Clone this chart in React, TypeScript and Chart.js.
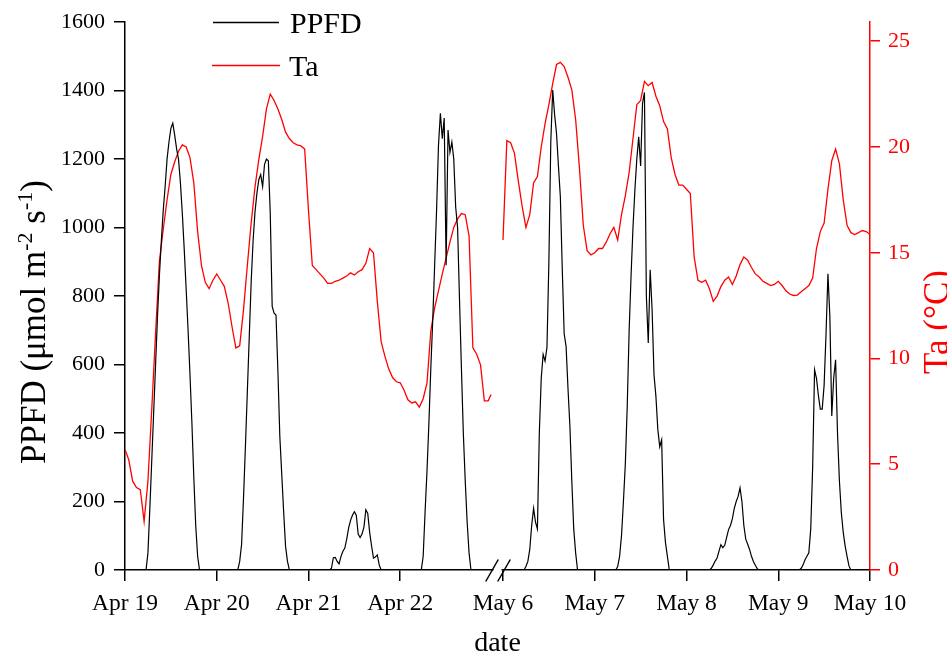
import React, { useEffect, useRef } from "react";
import { Chart, registerables } from "chart.js";

Chart.register(...registerables);

// ---- axis labels / categories ----
const TICK_LABELS = ["Apr 19", "Apr 20", "Apr 21", "Apr 22", "May 6", "May 7", "May 8", "May 9", "May 10"];
const BREAK_GAP = 0.12; // days of empty axis at the break
const APR_START = 0;
const MAY_START = 4 + BREAK_GAP;
const TICK_VALUES = [0, 1, 2, 3, MAY_START, MAY_START + 1, MAY_START + 2, MAY_START + 3, MAY_START + 4];
const TA_TICKS = [0, 5, 10, 15, 20, 25];

// ---- PPFD (µmol m-2 s-1), half-hourly from 05:00 to 20:00, zero at night ----
const PPFD_START_HOUR = 5;
const PPFD_END_HOUR = 20;
const PPFD_APR19 = [0, 0, 50, 180, 320, 460, 600, 740, 860, 960, 1050, 1120, 1200, 1250, 1290, 1305, 1270, 1230, 1200, 1130, 1040, 935, 820, 700, 570, 430, 270, 130, 40, 0, 0];
const PPFD_APR20 = [0, 0, 25, 75, 210, 361, 520, 680, 840, 960, 1045, 1100, 1140, 1155, 1120, 1185, 1200, 1195, 1040, 770, 750, 745, 580, 390, 280, 170, 69, 25, 0, 0, 0];
const PPFD_APR21 = [0, 0, 5, 36, 37, 25, 18, 40, 55, 64, 90, 123, 145, 160, 170, 160, 105, 95, 105, 125, 176, 165, 110, 70, 35, 38, 44, 15, 0, 0, 0];
const PPFD_APR22 = [0, 0, 40, 170, 290, 430, 590, 730, 890, 1050, 1240, 1334, 1260, 1320, 890, 1285, 1220, 1250, 1200, 1060, 1000, 790, 590, 400, 260, 140, 50, 0, 0, 0, 0];
const PPFD_MAY6 = [0, 0, 10, 25, 60, 130, 180, 140, 120, 400, 560, 630, 610, 650, 900, 1250, 1402, 1330, 1275, 1180, 1090, 880, 690, 653, 530, 420, 260, 120, 50, 0, 0];
const PPFD_MAY7 = [0, 0, 10, 40, 100, 200, 310, 480, 700, 860, 1000, 1110, 1200, 1265, 1180, 1363, 1395, 800, 663, 877, 760, 570, 507, 410, 360, 380, 147, 80, 40, 0, 0];
const PPFD_MAY8 = [0, 0, 0, 5, 15, 26, 35, 55, 74, 65, 72, 95, 118, 130, 150, 180, 200, 215, 240, 200, 130, 90, 75, 60, 40, 25, 14, 4, 0, 0, 0];
const PPFD_MAY9 = [0, 0, 5, 15, 30, 40, 50, 120, 300, 585, 560, 510, 470, 470, 540, 690, 865, 740, 450, 560, 614, 400, 260, 167, 110, 70, 40, 12, 0, 0, 0];

// ---- Ta (°C), hourly 00:00..23:00 ----
const TA_APR19 = [5.7, 5.2, 4.2, 3.9, 3.8, 2.3, 4.2, 7.6, 11.2, 14.6, 16.1, 17.5, 18.7, 19.3, 19.8, 20.1, 20.0, 19.5, 18.3, 16.0, 14.4, 13.6, 13.3, 13.7];
const TA_APR20 = [14.0, 13.7, 13.4, 12.6, 11.5, 10.5, 10.6, 12.3, 14.4, 16.4, 18.1, 19.4, 20.5, 21.8, 22.5, 22.2, 21.8, 21.3, 20.7, 20.4, 20.2, 20.1, 20.05, 19.9];
const TA_APR21 = [17.0, 14.4, 14.2, 14.0, 13.8, 13.55, 13.55, 13.65, 13.7, 13.8, 13.9, 14.05, 13.95, 14.1, 14.2, 14.5, 15.2, 15.0, 12.7, 10.8, 10.1, 9.5, 9.1, 8.9];
const TA_APR22 = [8.85, 8.5, 8.05, 7.9, 7.95, 7.7, 8.1, 8.85, 11.3, 12.4, 13.2, 14.0, 14.75, 15.5, 16.2, 16.6, 16.85, 16.8, 15.8, 10.5, 10.2, 9.7, 8.0, 8.0];
const TA_APR_END = 8.3;
const TA_MAY6 = [15.6, 20.3, 20.2, 19.7, 18.4, 17.2, 16.2, 16.8, 18.3, 18.6, 20.0, 21.1, 22.0, 23.0, 23.9, 24.0, 23.8, 23.3, 22.7, 21.3, 19.0, 16.3, 15.1, 14.9];
const TA_MAY7 = [15.0, 15.2, 15.2, 15.5, 15.9, 16.2, 15.6, 16.8, 17.7, 18.8, 20.4, 22.0, 22.2, 23.1, 22.9, 23.05, 22.4, 21.95, 21.2, 20.85, 19.5, 18.7, 18.2, 18.2];
const TA_MAY8 = [18.0, 17.8, 14.8, 13.7, 13.6, 13.7, 13.3, 12.7, 12.95, 13.4, 13.7, 13.85, 13.5, 13.9, 14.44, 14.8, 14.65, 14.3, 14.0, 13.85, 13.65, 13.55, 13.45, 13.5];
const TA_MAY9 = [13.65, 13.45, 13.2, 13.05, 12.98, 13.0, 13.15, 13.3, 13.45, 13.8, 15.2, 16.0, 16.4, 18.0, 19.35, 19.9, 19.2, 17.5, 16.3, 15.95, 15.86, 15.95, 16.05, 16.0];
const TA_MAY10_START = 15.86;

const APR_PPFD = [PPFD_APR19, PPFD_APR20, PPFD_APR21, PPFD_APR22];
const MAY_PPFD = [PPFD_MAY6, PPFD_MAY7, PPFD_MAY8, PPFD_MAY9];
const APR_TA = [TA_APR19, TA_APR20, TA_APR21, TA_APR22];
const MAY_TA = [TA_MAY6, TA_MAY7, TA_MAY8, TA_MAY9];

type Pt = { x: number; y: number | null };

function ppfdSegment(days: number[][], x0: number, endX: number): Pt[] {
  const pts: Pt[] = [];
  days.forEach((arr, d) => {
    for (let k = 0; k < 48; k++) {
      const h = k / 2;
      const v = h >= PPFD_START_HOUR && h <= PPFD_END_HOUR ? arr[(h - PPFD_START_HOUR) * 2] : 0;
      pts.push({ x: x0 + d + h / 24, y: v });
    }
  });
  pts.push({ x: endX, y: 0 });
  return pts;
}

function taSegment(days: number[][], x0: number, endX: number, endVal: number): Pt[] {
  const pts: Pt[] = [];
  days.forEach((arr, d) => {
    arr.forEach((v, h) => pts.push({ x: x0 + d + h / 24, y: v }));
  });
  pts.push({ x: endX, y: endVal });
  return pts;
}

const GAP_X = 4 + BREAK_GAP / 2;
const PPFD_POINTS: Pt[] = [
  ...ppfdSegment(APR_PPFD, APR_START, 3.99),
  { x: GAP_X, y: null },
  ...ppfdSegment(MAY_PPFD, MAY_START, MAY_START + 4),
];
const TA_POINTS: Pt[] = [
  ...taSegment(APR_TA, APR_START, 3.99, TA_APR_END),
  { x: GAP_X, y: null },
  ...taSegment(MAY_TA, MAY_START, MAY_START + 4, TA_MAY10_START),
];

const SERIF = '"Liberation Serif", "Times New Roman", serif';
const RED = "#ff0000";

const decor = {
  id: "decor",
  afterDraw(chart: any) {
    const ctx = chart.ctx as CanvasRenderingContext2D;
    const area = chart.chartArea;
    const xs = chart.scales.x;
    ctx.save();

    // axis break marks
    const xb = xs.getPixelForValue(GAP_X);
    const yb = area.bottom;
    ctx.fillStyle = "#fff";
    ctx.fillRect(xb - 4, yb - 3, 8, 6);
    ctx.strokeStyle = "#000";
    ctx.lineWidth = 1.5;
    for (const dx of [-5.5, 6.5]) {
      ctx.beginPath();
      ctx.moveTo(xb + dx - 6.3, yb + 11.5);
      ctx.lineTo(xb + dx + 6.3, yb - 10.5);
      ctx.stroke();
    }

    // legend
    ctx.lineWidth = 1.3;
    ctx.strokeStyle = "#000";
    ctx.beginPath();
    ctx.moveTo(213, 22.5);
    ctx.lineTo(279, 22.5);
    ctx.stroke();
    ctx.strokeStyle = RED;
    ctx.beginPath();
    ctx.moveTo(212, 65.5);
    ctx.lineTo(280, 65.5);
    ctx.stroke();
    ctx.fillStyle = "#000";
    ctx.font = `30px ${SERIF}`;
    ctx.textAlign = "left";
    ctx.textBaseline = "alphabetic";
    ctx.fillText("PPFD", 290, 33);
    ctx.fillText("Ta", 289, 76);

    // bottom title
    ctx.textAlign = "center";
    ctx.font = `28px ${SERIF}`;
    ctx.fillText("date", (area.left + area.right) / 2, 651);

    // left title with superscripts
    const big = `35px ${SERIF}`;
    const small = `22px ${SERIF}`;
    const parts: [string, boolean][] = [
      ["PPFD (\u03bcmol m", false],
      ["-2", true],
      [" s", false],
      ["-1", true],
      [")", false],
    ];
    let total = 0;
    for (const [t, sup] of parts) {
      ctx.font = sup ? small : big;
      total += ctx.measureText(t).width;
    }
    ctx.save();
    ctx.translate(45, 322);
    ctx.rotate(-Math.PI / 2);
    ctx.textAlign = "left";
    let cx = -total / 2;
    for (const [t, sup] of parts) {
      ctx.font = sup ? small : big;
      ctx.fillText(t, cx, sup ? -13 : 0);
      cx += ctx.measureText(t).width;
    }
    ctx.restore();

    // right title
    ctx.save();
    ctx.translate(948, 322);
    ctx.rotate(-Math.PI / 2);
    ctx.fillStyle = RED;
    ctx.font = `35px ${SERIF}`;
    ctx.textAlign = "center";
    ctx.fillText("Ta (\u00b0C)", 0, 0);
    ctx.restore();

    ctx.restore();
  },
};

export default function App() {
  const ref = useRef<HTMLCanvasElement>(null);
  useEffect(() => {
    document.body.style.margin = "0";
    const canvas = ref.current!;
    const chart = new Chart(canvas, {
      type: "line",
      data: {
        datasets: [
          {
            label: "PPFD",
            data: PPFD_POINTS as any,
            borderColor: "#000",
            borderWidth: 1.2,
            pointRadius: 0,
            yAxisID: "y",
            tension: 0,
            spanGaps: false,
          },
          {
            label: "Ta",
            data: TA_POINTS as any,
            borderColor: RED,
            borderWidth: 1.3,
            pointRadius: 0,
            yAxisID: "y1",
            tension: 0,
            spanGaps: false,
          },
        ],
      },
      options: {
        animation: false,
        responsive: false,
        devicePixelRatio: 1,
        layout: { padding: { top: 22, left: 0, right: 0, bottom: 0 } },
        plugins: { legend: { display: false }, tooltip: { enabled: false } },
        scales: {
          x: {
            type: "linear",
            min: 0,
            max: MAY_START + 4,
            afterBuildTicks: (s: any) => {
              s.ticks = TICK_VALUES.map((v) => ({ value: v }));
            },
            afterFit: (s: any) => {
              s.height = 88;
            },
            ticks: {
              autoSkip: false,
              maxRotation: 0,
              padding: 9,
              color: "#000",
              font: { family: SERIF, size: 23.5 },
              callback: (_v: any, i: number) => TICK_LABELS[i],
            },
            grid: { drawOnChartArea: false, tickLength: 11, color: "#000", lineWidth: 1.5 },
            border: { display: true, color: "#000", width: 1.5 },
          },
          y: {
            position: "left",
            min: 0,
            max: 1600,
            ticks: {
              stepSize: 200,
              padding: 9,
              color: "#000",
              font: { family: SERIF, size: 22 },
              callback: (v: any) => String(v),
            },
            afterFit: (s: any) => {
              s.width = 125;
            },
            grid: { drawOnChartArea: false, tickLength: 11, color: "#000", lineWidth: 1.5 },
            border: { display: true, color: "#000", width: 1.5 },
          },
          y1: {
            position: "right",
            min: 0,
            max: 25.9,
            afterBuildTicks: (s: any) => {
              s.ticks = TA_TICKS.map((v) => ({ value: v }));
            },
            afterFit: (s: any) => {
              s.width = 77;
            },
            ticks: { padding: 8, color: RED, font: { family: SERIF, size: 22 }, callback: (v: any) => String(v) },
            grid: { drawOnChartArea: false, tickLength: 10, color: RED, lineWidth: 1.5 },
            border: { display: true, color: RED, width: 1.5 },
          },
        },
      },
      plugins: [decor],
    } as any);
    return () => chart.destroy();
  }, []);
  return <canvas ref={ref} width={947} height={658} style={{ display: "block", width: "947px", height: "658px" }} />;
}
